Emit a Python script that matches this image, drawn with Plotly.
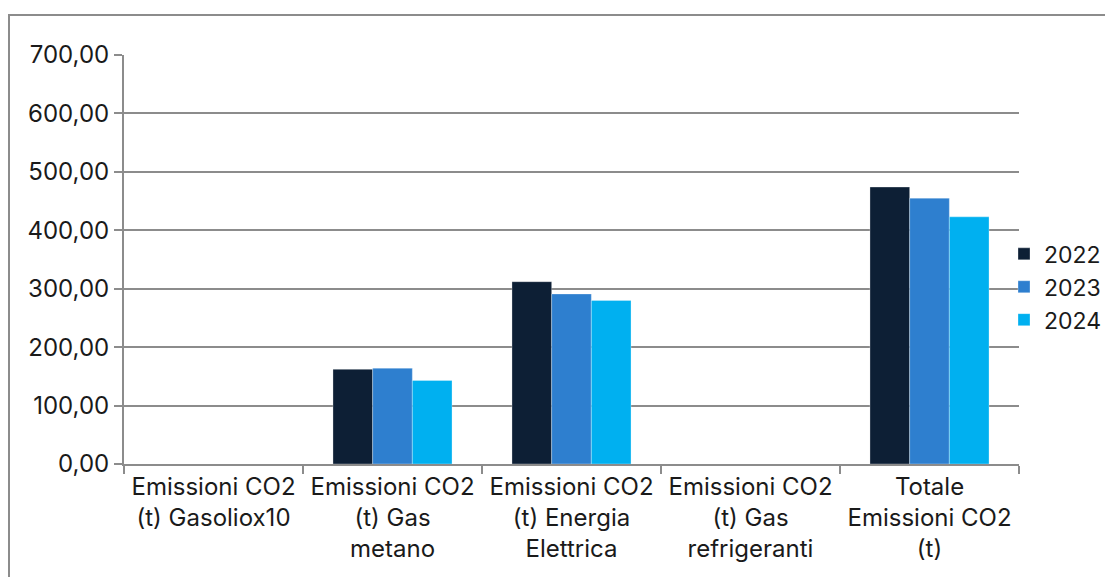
import plotly.graph_objects as go

categories = [
    "Emissioni CO2<br>(t) Gasoliox10",
    "Emissioni CO2<br>(t) Gas<br>metano",
    "Emissioni CO2<br>(t) Energia<br>Elettrica",
    "Emissioni CO2<br>(t) Gas<br>refrigeranti",
    "Totale<br>Emissioni CO2<br>(t)",
]
years = ["2022", "2023", "2024"]
values_2022 = [0, 162, 312, 0, 474]
values_2023 = [0, 164, 291, 0, 455]
values_2024 = [0, 143, 280, 0, 423]
series = [values_2022, values_2023, values_2024]
colors = ["#0d1f35", "#2e7fcf", "#00b0f0"]

FONT = "Inter"
FS = 24
fig = go.Figure()
for name, vals, col in zip(years, series, colors):
    fig.add_trace(go.Bar(
        x=categories, y=vals, name=name,
        marker=dict(color=col, line=dict(color="rgba(255,255,255,0.6)", width=0.5)),
    ))

L, R, T, B = 124, 86, 55, 113
W, H = 1105, 577
pw, ph = W - L - R, H - T - B

fig.update_layout(
    width=W, height=H,
    margin=dict(l=L, r=R, t=T, b=B, pad=0, autoexpand=False),
    paper_bgcolor="white", plot_bgcolor="white",
    barmode="group", bargap=0.335, bargroupgap=0,
    separators=",.",
    font=dict(family=FONT, size=FS, color="#1a1a1a"),
    showlegend=True,
    legend=dict(x=(1004 - L) / pw, xanchor="left", y=0.433, yanchor="middle",
                font=dict(size=23), itemwidth=30, tracegroupgap=0,
                bgcolor="rgba(0,0,0,0)"),
    xaxis=dict(
        type="category", tickson="boundaries", ticks="outside", ticklen=8,
        tickcolor="#8c8c8c", tickwidth=2, showline=True, linecolor="#8c8c8c",
        linewidth=2, showgrid=False, tickangle=0,
        tickfont=dict(size=FS),
    ),
    yaxis=dict(
        range=[0, 700], dtick=100, tickformat=".2f", ticks="outside", ticklen=8,
        tickcolor="#8c8c8c", tickwidth=2, showline=True, linecolor="#8c8c8c",
        linewidth=2, showgrid=True, gridcolor="#8c8c8c", gridwidth=2,
        zeroline=False, tickfont=dict(size=FS),
    ),
    shapes=[dict(
        type="rect", xref="paper", yref="paper",
        x0=(9 - L) / pw, x1=(1200 - L) / pw,
        y0=(H - B - 700) / ph, y1=(H - B - 15) / ph,
        line=dict(color="#8c8c8c", width=2), fillcolor="rgba(0,0,0,0)", layer="below",
    )],
)

fig.write_html("out.html")
